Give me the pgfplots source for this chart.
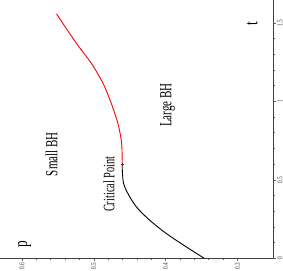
\documentclass[border=0pt]{standalone}
\usepackage{fontspec}
\setmainfont{Liberation Serif}
\usepackage{graphicx}
\usepackage{pgfplots}
\pgfplotsset{compat=1.18}
\newcommand{\sq}[2][0.65]{\scalebox{#1}[1]{#2}}
\begin{document}
\begin{tikzpicture}
\begin{axis}[
  scale only axis,
  width=273.3bp, height=258.3bp,
  x dir=reverse,
  xmin=0.25, xmax=0.6305,
  ymin=0, ymax=1.645,
  axis lines=left,
  ytick pos=right, yticklabel pos=right,
  axis line style={-, draw=black!75, line width=0.6pt},
  every outer x axis line/.append style={-},
  every outer y axis line/.append style={-},
  tick align=outside,
  major tick length=2.5bp,
  minor tick length=1.5bp,
  tick style={draw=black!60, line width=0.4pt},
  xtick={0.3,0.4,0.5,0.6},
  xticklabels={\sq[0.7]{0.3},\sq[0.7]{0.4},\sq[0.7]{0.5},\sq[0.7]{0.6}},
  minor x tick num=4,
  ytick={0,0.5,1,1.5},
  yticklabels={\sq[0.7]{0},\sq[0.7]{0.5},\sq[0.7]{1},\sq[0.7]{1.5}},
  minor y tick num=4,
  xticklabel style={rotate=90, anchor=east, font=\fontsize{7.5}{8}\selectfont, inner sep=1.5pt, text=black!80},
  yticklabel style={rotate=90, anchor=north, font=\fontsize{7.5}{8}\selectfont, inner sep=1.5pt, text=black!80},
  clip=false,
]
\addplot[black, line width=0.9pt, smooth] coordinates {
(0.3462,0) (0.3716,0.074) (0.3993,0.159) (0.4225,0.244) (0.4409,0.329)
(0.4526,0.414) (0.4585,0.478) (0.4601,0.55) (0.4603,0.60)
};
\addplot[red, line width=0.9pt, smooth] coordinates {
(0.4603,0.60) (0.4606,0.68) (0.4617,0.753) (0.4664,0.860) (0.4756,0.987)
(0.4872,1.115) (0.5033,1.242) (0.5241,1.369) (0.5518,1.556)
};
\addplot[only marks, mark=+, mark size=1.5pt, black!80] coordinates {(0.4603,0.60)};
\node[rotate=90] at (axis cs:0.5588,0.663) {\sq{\fontsize{17}{20}\selectfont Small BH}};
\node[rotate=90] at (axis cs:0.397,0.976) {\sq{\fontsize{17}{20}\selectfont Large BH}};
\node[rotate=90] at (axis cs:0.479,0.472) {\sq{\fontsize{16}{19}\selectfont Critical Point}};
\node[rotate=90] at (axis cs:0.596,0.091) {\sq[0.7]{\fontsize{19}{22}\selectfont p}};
\node[rotate=90] at (axis cs:0.2796,1.497) {\sq[0.7]{\fontsize{19}{22}\selectfont t}};
\coordinate (BL) at (axis cs:0.6305,0);
\end{axis}
\pgfresetboundingbox
\path[use as bounding box] ([yshift=-12.7bp]BL) rectangle ++(283bp,271bp);
\end{tikzpicture}
\end{document}
